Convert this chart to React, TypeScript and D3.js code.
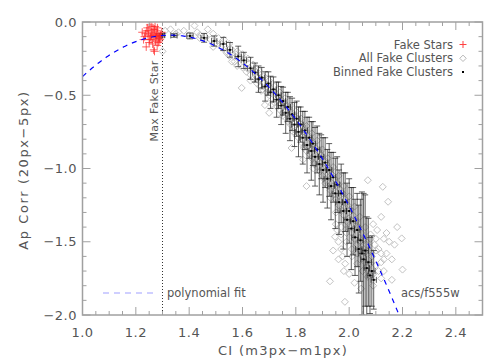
import React from "react";
import * as d3 from "d3";

// ---------- data ----------
const starCI = [1.224,1.233,1.243,1.251,1.258,1.263,1.27,1.276,1.282,1.287,1.293,1.239,1.248,1.26,1.267,1.273,1.279,1.284,1.289,1.255,1.229,1.264,1.274,1.281,1.236,1.297,1.27,1.257,1.277,1.246,1.265,1.286,1.241,1.28,1.253,1.268,1.26,1.291,1.25,1.272];
const starAp = [-0.07,-0.10,-0.04,-0.12,-0.07,-0.15,-0.05,-0.10,-0.08,-0.13,-0.09,-0.17,-0.06,-0.03,-0.19,-0.09,-0.06,-0.14,-0.11,-0.10,-0.12,-0.08,-0.13,-0.04,-0.08,-0.07,-0.20,-0.12,-0.09,-0.09,-0.05,-0.10,-0.06,-0.16,-0.02,-0.11,-0.09,-0.12,-0.14,-0.03];

const clusterCI = [1.30,1.31,1.33,1.35,1.36,1.38,1.40,1.42,1.43,1.44,1.46,1.47,1.48,1.49,1.50,1.51,1.52,1.53,1.54,1.55,1.44,1.49,1.54,1.56,
1.55,1.56,1.57,1.575,1.58,1.59,1.597,1.60,1.61,1.615,1.62,1.63,1.635,1.64,1.645,1.65,1.655,1.66,1.665,1.67,1.675,1.684,1.68,1.69,1.695,1.70,1.70,1.705,1.71,1.715,1.72,1.725,1.73,1.735,1.74,1.745,1.75,1.755,1.76,1.765,1.77,1.775,1.78,1.784,1.785,1.79,1.795,1.80,1.805,1.81,1.815,1.82,1.827,1.825,1.83,1.835,1.84,1.84,1.845,1.85,1.855,1.86,1.866,1.865,1.87,1.875,1.88,1.885,1.89,1.895,1.90,1.905,1.91,1.915,1.92,1.925,1.928,1.93,1.935,1.94,1.945,1.947,1.95,1.955,1.96,1.965,1.97,1.975,1.98,1.984,1.985,1.99,1.995,2.00,2.005,2.01,2.015,2.02,2.025,2.03,2.035,2.04,2.045,2.05,2.055,2.06,2.065,2.07,2.07,2.075,2.08,2.085,2.09,2.095,2.10,2.105,2.11,2.12,2.126,2.13,2.146,2.14,2.16,2.197,2.20,
1.62,1.66,1.70,1.74,1.78,1.82,1.86,1.90,1.94,1.98,2.02,2.06,1.88,1.92,1.96,2.00,2.04,2.08,1.99,2.01,2.03,1.97,2.09,2.11,2.13,2.15,2.12,2.00,1.96,2.02,1.95,1.96,1.97,1.955,1.975,1.985,
1.58,1.60,1.62,1.64,1.66,1.68,1.70,1.72,1.74,1.76,1.78,1.80,1.82,1.84,1.86,1.88,1.90,1.92,1.94,1.96,1.98,2.00,2.02,2.04,2.06,2.08,2.10,2.12,
1.63,1.67,1.71,1.75,1.79,1.83,1.87,1.91,1.93,1.95,1.97,1.99,2.01,2.03,2.05,2.07,1.98,1.94,2.045,
2.10,2.12,2.14,2.16,2.09,2.13,2.17,2.18];
const clusterAp = [-0.20,-0.06,-0.05,-0.08,-0.07,-0.06,-0.09,-0.025,-0.07,-0.09,-0.10,-0.05,-0.12,-0.08,-0.14,-0.11,-0.17,-0.12,-0.20,-0.15,-0.11,-0.17,-0.21,-0.27,
-0.23,-0.19,-0.27,-0.22,-0.30,-0.24,-0.45,-0.31,-0.26,-0.34,-0.28,-0.36,-0.30,-0.39,-0.33,-0.37,-0.42,-0.35,-0.44,-0.39,-0.46,-0.567,-0.41,-0.48,-0.43,-0.62,-0.50,-0.45,-0.53,-0.47,-0.55,-0.49,-0.58,-0.51,-0.60,-0.53,-0.62,-0.55,-0.65,-0.57,-0.68,-0.59,-0.70,-0.86,-0.62,-0.73,-0.64,-0.76,-0.66,-0.79,-0.69,-0.82,-0.94,-0.71,-0.85,-0.74,-1.12,-0.88,-0.77,-0.90,-0.80,-0.93,-1.00,-0.83,-0.96,-0.86,-0.99,-0.88,-1.02,-0.91,-1.05,-0.94,-1.08,-0.97,-1.12,-1.00,-1.77,-1.15,-1.04,-1.18,-1.07,-1.466,-1.21,-1.10,-1.25,-1.14,-1.28,-1.17,-1.32,-1.91,-1.21,-1.36,-1.25,-1.40,-1.28,-1.44,-1.32,-1.48,-1.36,-1.52,-1.40,-1.56,-1.44,-1.60,-1.48,-1.64,-1.52,-1.08,-1.68,-1.56,-1.45,-1.60,-1.38,-1.52,-1.66,-1.42,-1.55,-1.33,-1.125,-1.48,-1.227,-1.58,-1.76,-1.477,-1.69,
-0.32,-0.40,-0.47,-0.56,-0.66,-0.76,-0.87,-0.99,-1.12,-1.26,-1.41,-1.57,-0.94,-1.04,-1.19,-1.34,-1.50,-1.65,-1.50,-1.60,-1.65,-1.45,-1.72,-1.70,-1.62,-1.50,-1.75,-1.72,-1.62,-1.78,-1.38,-1.50,-1.55,-1.42,-1.60,-1.65,
-0.20,-0.22,-0.25,-0.29,-0.33,-0.37,-0.40,-0.44,-0.48,-0.52,-0.57,-0.61,-0.66,-0.71,-0.76,-0.81,-0.87,-0.93,-0.99,-1.05,-1.12,-1.19,-1.26,-1.33,-1.40,-1.48,-1.56,-1.64,
-0.40,-0.47,-0.56,-0.64,-0.75,-0.86,-0.97,-1.10,-1.20,-1.30,-1.40,-1.44,-1.55,-1.58,-1.70,-1.74,-1.70,-1.56,-1.82,
-1.48,-1.58,-1.44,-1.62,-1.80,-1.70,-1.52,-1.40];

const binCI = [1.288,1.300,1.343,1.403,1.456,1.494,1.528,1.553,1.584,1.605,1.630,1.647,1.660,1.672,1.685,1.697,1.705,1.716,1.728,1.735,1.745,1.752,1.762,1.770,1.778,1.786,1.795,1.803,1.810,1.818,1.826,1.834,1.842,1.850,1.858,1.864,1.872,1.880,1.888,1.895,1.902,1.910,1.918,1.925,1.932,1.940,1.948,1.955,1.962,1.970,1.978,1.985,1.992,2.000,2.008,2.015,2.022,2.030,2.036,2.042,2.048,2.054,2.060,2.066,2.072,2.078,2.085,2.092];
const binAp = [-0.095,-0.090,-0.092,-0.095,-0.108,-0.130,-0.150,-0.190,-0.235,-0.262,-0.316,-0.345,-0.390,-0.380,-0.44,-0.42,-0.48,-0.46,-0.53,-0.50,-0.57,-0.54,-0.62,-0.58,-0.66,-0.63,-0.70,-0.66,-0.75,-0.70,-0.79,-0.74,-0.84,-0.79,-0.88,-0.83,-0.92,-0.87,-0.97,-0.92,-1.01,-0.96,-1.07,-1.01,-1.12,-1.06,-1.17,-1.11,-1.23,-1.17,-1.29,-1.23,-1.35,-1.29,-1.41,-1.36,-1.47,-1.42,-1.55,-1.49,-1.58,-1.62,-1.56,-1.68,-1.64,-1.73,-1.70,-1.76];
const binCIErr = [0.010,0.008,0.012,0.012,0.012,0.010,0.012,0.010,0.012,0.010,0.012,0.010,0.012,0.010,0.012,0.010,0.012,0.010,0.012,0.010,0.012,0.010,0.012,0.010,0.012,0.010,0.012,0.010,0.012,0.010,0.012,0.010,0.012,0.010,0.012,0.010,0.012,0.010,0.012,0.010,0.012,0.010,0.012,0.010,0.012,0.010,0.012,0.010,0.012,0.010,0.012,0.010,0.012,0.010,0.012,0.010,0.012,0.010,0.012,0.010,0.012,0.010,0.012,0.010,0.012,0.010,0.012,0.010];
const binApErr = [0.015,0.012,0.012,0.020,0.030,0.035,0.045,0.050,0.070,0.055,0.075,0.065,0.090,0.070,0.100,0.080,0.110,0.085,0.120,0.090,0.130,0.095,0.140,0.100,0.150,0.110,0.150,0.120,0.170,0.120,0.180,0.130,0.190,0.140,0.200,0.150,0.200,0.160,0.210,0.150,0.220,0.170,0.200,0.180,0.230,0.170,0.240,0.190,0.220,0.200,0.260,0.200,0.250,0.220,0.280,0.230,0.260,0.250,0.300,0.280,0.420,0.450,0.380,0.350,0.300,0.260,0.240,0.200];

// polynomial fit coefficients: c0 + c1*x + c2*x^2
const fitCoeffs = [-4.689, 6.916, -2.6];
const fitRange = [1.0, 2.2];

const xMajorTicks = [1.0, 1.2, 1.4, 1.6, 1.8, 2.0, 2.2, 2.4];
const yMajorTicks = [0.0, -0.5, -1.0, -1.5, -2.0];
const maxFakeStar = 1.3;

const legendItems = ["Fake Stars", "All Fake Clusters", "Binned Fake Clusters"];

// ---------- layout ----------
const W = 504, H = 360;
const L = 82.5, R = 482.5, T = 22, B = 315;
const font = "DejaVu Sans, sans-serif";
const axisCol = "#a0a0a0";
const textCol = "#555";

export default function App() {
  const x = d3.scaleLinear().domain([1.0, 2.5]).range([L, R]);
  const y = d3.scaleLinear().domain([-2.0, 0.0]).range([B, T]);

  const xMinor = d3.range(1.0, 2.5001, 0.05);
  const yMinor = d3.range(-2.0, 0.0001, 0.1);

  const fitX = d3.range(fitRange[0], fitRange[1] + 1e-9, 0.005);
  const poly = (v: number) => fitCoeffs[0] + fitCoeffs[1] * v + fitCoeffs[2] * v * v;
  const line = d3.line<number>().x((v) => x(v)).y((v) => y(poly(v)));

  const fmt = (v: number) => (v < 0 ? "\u2212" : "") + Math.abs(v).toFixed(1);
  const dia = (cx: number, cy: number, r: number) =>
    `M${cx},${cy - r}L${cx + r},${cy}L${cx},${cy + r}L${cx - r},${cy}Z`;

  return (
    <svg width={W} height={H} style={{ display: "block", position: "absolute", left: 0, top: 0 }}>
      <rect width={W} height={H} fill="#fff" />
      <defs>
        <clipPath id="plot">
          <rect x={L} y={T} width={R - L} height={B - T} />
        </clipPath>
      </defs>

      <g clipPath="url(#plot)">
        {clusterCI.map((c, i) => (
          <path key={"d" + i} d={dia(x(c), y(clusterAp[i]), 3.5)} fill="none" stroke="#c2c2c2" strokeWidth={1} />
        ))}
        <line x1={x(maxFakeStar)} x2={x(maxFakeStar)} y1={T} y2={B} stroke="#333" strokeWidth={1} strokeDasharray="1,2" />
        {binCI.map((c, i) => {
          const px = x(c), py = y(binAp[i]);
          const y1 = y(binAp[i] + binApErr[i]), y2 = y(binAp[i] - binApErr[i]);
          const x1 = x(c - binCIErr[i]), x2 = x(c + binCIErr[i]);
          return (
            <g key={"b" + i} stroke="#222" strokeWidth={0.9} strokeOpacity={0.8}>
              <line x1={px} x2={px} y1={y1} y2={y2} />
              <line x1={px - 3} x2={px + 3} y1={y1} y2={y1} />
              <line x1={px - 3} x2={px + 3} y1={y2} y2={y2} />
              <line x1={x1} x2={x2} y1={py} y2={py} />
              <line x1={x1} x2={x1} y1={py - 3} y2={py + 3} />
              <line x1={x2} x2={x2} y1={py - 3} y2={py + 3} />
              <rect x={px - 1} y={py - 1} width={2} height={2} fill="#000" stroke="none" />
            </g>
          );
        })}
        {starCI.map((c, i) => {
          const px = x(c), py = y(starAp[i]);
          return (
            <g key={"s" + i} stroke="#ff2a2a" strokeWidth={1} strokeOpacity={0.75}>
              <line x1={px - 4} x2={px + 4} y1={py} y2={py} />
              <line x1={px} x2={px} y1={py - 4} y2={py + 4} />
            </g>
          );
        })}
        <path d={line(fitX) || ""} fill="none" stroke="#0000ff" strokeWidth={1.2} strokeDasharray="5,5" />
      </g>

      <rect x={L} y={T} width={R - L} height={B - T} fill="none" stroke={axisCol} strokeWidth={1.5} />
      {xMinor.map((v, i) => {
        const major = xMajorTicks.some((m) => Math.abs(m - v) < 1e-6);
        const len = major ? 8 : 4;
        return (
          <g key={"xt" + i} stroke={axisCol} strokeWidth={1}>
            <line x1={x(v)} x2={x(v)} y1={B} y2={B - len} />
            <line x1={x(v)} x2={x(v)} y1={T} y2={T + len} />
          </g>
        );
      })}
      {yMinor.map((v, i) => {
        const major = yMajorTicks.some((m) => Math.abs(m - v) < 1e-6);
        const len = major ? 8 : 4;
        return (
          <g key={"yt" + i} stroke={axisCol} strokeWidth={1}>
            <line x1={L} x2={L + len} y1={y(v)} y2={y(v)} />
            <line x1={R} x2={R - len} y1={y(v)} y2={y(v)} />
          </g>
        );
      })}
      {xMajorTicks.map((v) => (
        <text key={"xl" + v} x={x(v)} y={337} textAnchor="middle" fontFamily={font} fontSize={13} fill={textCol} letterSpacing={0.5}>
          {v.toFixed(1)}
        </text>
      ))}
      {yMajorTicks.map((v) => (
        <text key={"yl" + v} x={77} y={y(v) + 4.5} textAnchor="end" fontFamily={font} fontSize={13} fill={textCol} letterSpacing={0.5}>
          {fmt(v)}
        </text>
      ))}
      <text x={283} y={355} textAnchor="middle" fontFamily={font} fontSize={13} fill={textCol} letterSpacing={1.3}>
        CI (m3px{"\u2212"}m1px)
      </text>
      <text transform={`translate(28,170) rotate(-90)`} textAnchor="middle" fontFamily={font} fontSize={13} fill={textCol} letterSpacing={1.6}>
        Ap Corr (20px{"\u2212"}5px)
      </text>

      <text transform={`translate(157.5,101) rotate(-90)`} textAnchor="middle" fontFamily={font} fontSize={11} fill={textCol} letterSpacing={0.3}>
        Max Fake Star
      </text>

      {legendItems.map((t, i) => (
        <text key={"lg" + i} x={453} y={48.5 + i * 13.7} textAnchor="end" fontFamily={font} fontSize={11.5} fill={textCol}>
          {t}
        </text>
      ))}
      <g stroke="#ff4040" strokeWidth={1}>
        <line x1={459.5} x2={466.5} y1={44.5} y2={44.5} />
        <line x1={463} x2={463} y1={41} y2={48} />
      </g>
      <path d={dia(463, 58.3, 3.2)} fill="none" stroke="#b8b8b8" strokeWidth={1} />
      <rect x={462} y={71} width={2} height={2} fill="#000" />

      <line x1={103} x2={155} y1={293} y2={293} stroke="#8888ff" strokeWidth={1.2} strokeDasharray="6,5" strokeOpacity={0.8} />
      <text x={167} y={297} fontFamily={font} fontSize={11.5} fill={textCol}>polynomial fit</text>
      <text x={401} y={297} fontFamily={font} fontSize={11.5} fill={textCol}>acs/f555w</text>
    </svg>
  );
}
